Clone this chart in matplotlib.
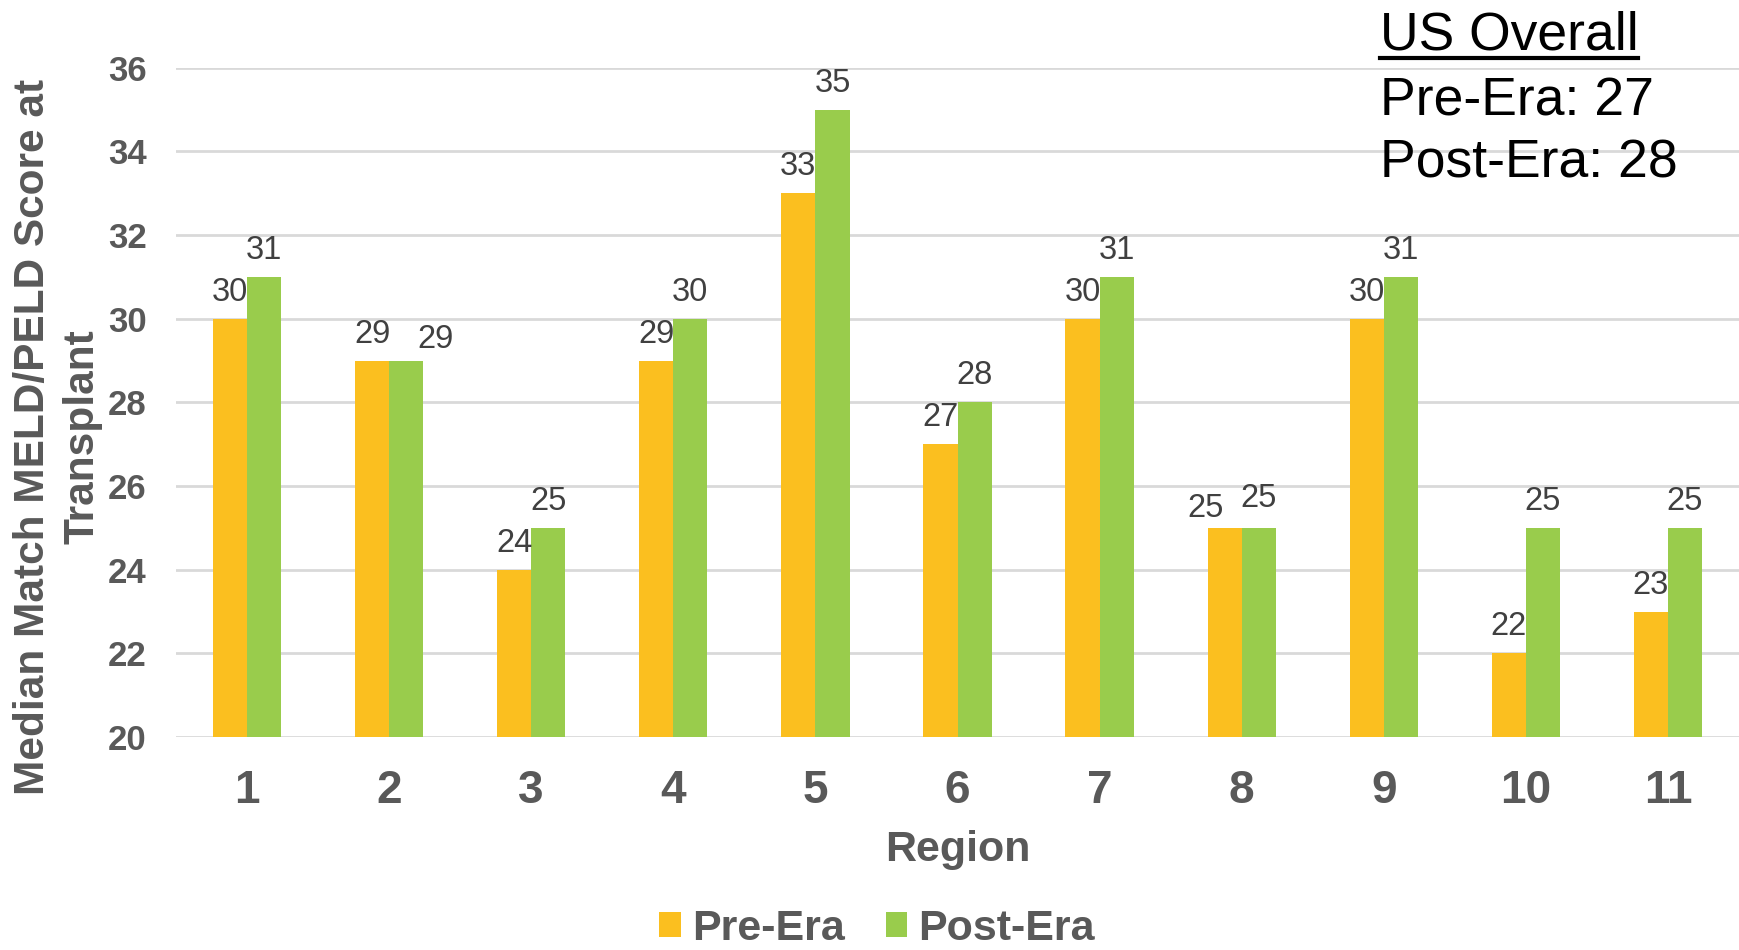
import numpy as np
import matplotlib
matplotlib.use('Agg')
import matplotlib.pyplot as plt
from matplotlib.lines import Line2D

plt.rcParams['font.family'] = ['Liberation Sans', 'DejaVu Sans']

GRAY = '#595959'
PRE_COLOR = '#FBBF1F'
POST_COLOR = '#99CC4C'

regions = ['1', '2', '3', '4', '5', '6', '7', '8', '9', '10', '11']
pre_era = [30, 29, 24, 29, 33, 27, 30, 25, 30, 22, 23]
post_era = [31, 29, 25, 30, 35, 28, 31, 25, 31, 25, 25]
us_pre = 27
us_post = 28

W, H = 1739, 950
fig = plt.figure(figsize=(W / 100, H / 100), dpi=100)
ax = fig.add_axes([176 / W, 1 - 737 / H, 1 - 176 / W, (737 - 67.7) / H])

x = np.arange(len(regions))
bw = 0.24
b1 = ax.bar(x - bw / 2, pre_era, bw, color=PRE_COLOR, label='Pre-Era', zorder=3)
b2 = ax.bar(x + bw / 2, post_era, bw, color=POST_COLOR, label='Post-Era', zorder=3)

# label nudges (pixels) where the two labels would collide, like Excel does
nudge = {(0, 7): (-19, -7), (1, 1): (29, -5), (1, 7): (0, 3)}

for k, (bars, vals) in enumerate(((b1, pre_era), (b2, post_era))):
    for i, (rect, v) in enumerate(zip(bars, vals)):
        dx, dy = nudge.get((k, i), (0, 0))
        ax.annotate(str(v), (rect.get_x() + rect.get_width() / 2, v),
                    xytext=(dx, 18 + dy), textcoords='offset pixels',
                    ha='center', va='baseline', fontsize=23.5, color='#404040')

ax.set_xlim(-0.5, len(regions) - 0.5)
ax.set_ylim(20, 36)
ax.set_yticks(np.arange(20, 37, 2))
ax.set_xticks(x)
ax.set_xticklabels(regions)
ax.yaxis.grid(True, color='#D9D9D9', linewidth=2, zorder=0)
ax.set_axisbelow(True)
for s in ax.spines.values():
    s.set_visible(False)
ax.tick_params(axis='both', length=0)
ax.tick_params(axis='y', labelsize=25, pad=21, labelcolor=GRAY)
ax.tick_params(axis='x', labelsize=33, pad=23, labelcolor=GRAY)
for lab in ax.get_xticklabels() + ax.get_yticklabels():
    lab.set_fontweight('bold')

ax.set_xlabel('Region', fontsize=31, fontweight='bold', color=GRAY, labelpad=12)
fig.text(58 / W, 1 - 437 / H, 'Median Match MELD/PELD Score at\nTransplant',
         rotation=90, ha='center', va='center', multialignment='center',
         fontsize=30.5, fontweight='bold', color=GRAY, linespacing=1.3)

# US overall box
fig.text(1380 / W, 1 - 50 / H, 'US Overall', fontsize=38.5, va='baseline', ha='left')
fig.add_artist(Line2D([1380 / W, 1638 / W], [1 - 58 / H, 1 - 58 / H],
                      color='black', linewidth=3))
fig.text(1380 / W, 1 - 115 / H, 'Pre-Era: %d' % us_pre, fontsize=38.5, va='baseline', ha='left')
fig.text(1380 / W, 1 - 177 / H, 'Post-Era: %d' % us_post, fontsize=38.5, va='baseline', ha='left')

leg = fig.legend(handles=[b1, b2], loc='center', bbox_to_anchor=(877 / W, 1 - 929 / H),
                 ncol=2, frameon=False, fontsize=31, handlelength=0.5, handleheight=0.5,
                 handletextpad=0.26, columnspacing=0.95, borderpad=0)
for t in leg.get_texts():
    t.set_color(GRAY)
    t.set_fontweight('bold')

fig.savefig('out.png', dpi=100)
